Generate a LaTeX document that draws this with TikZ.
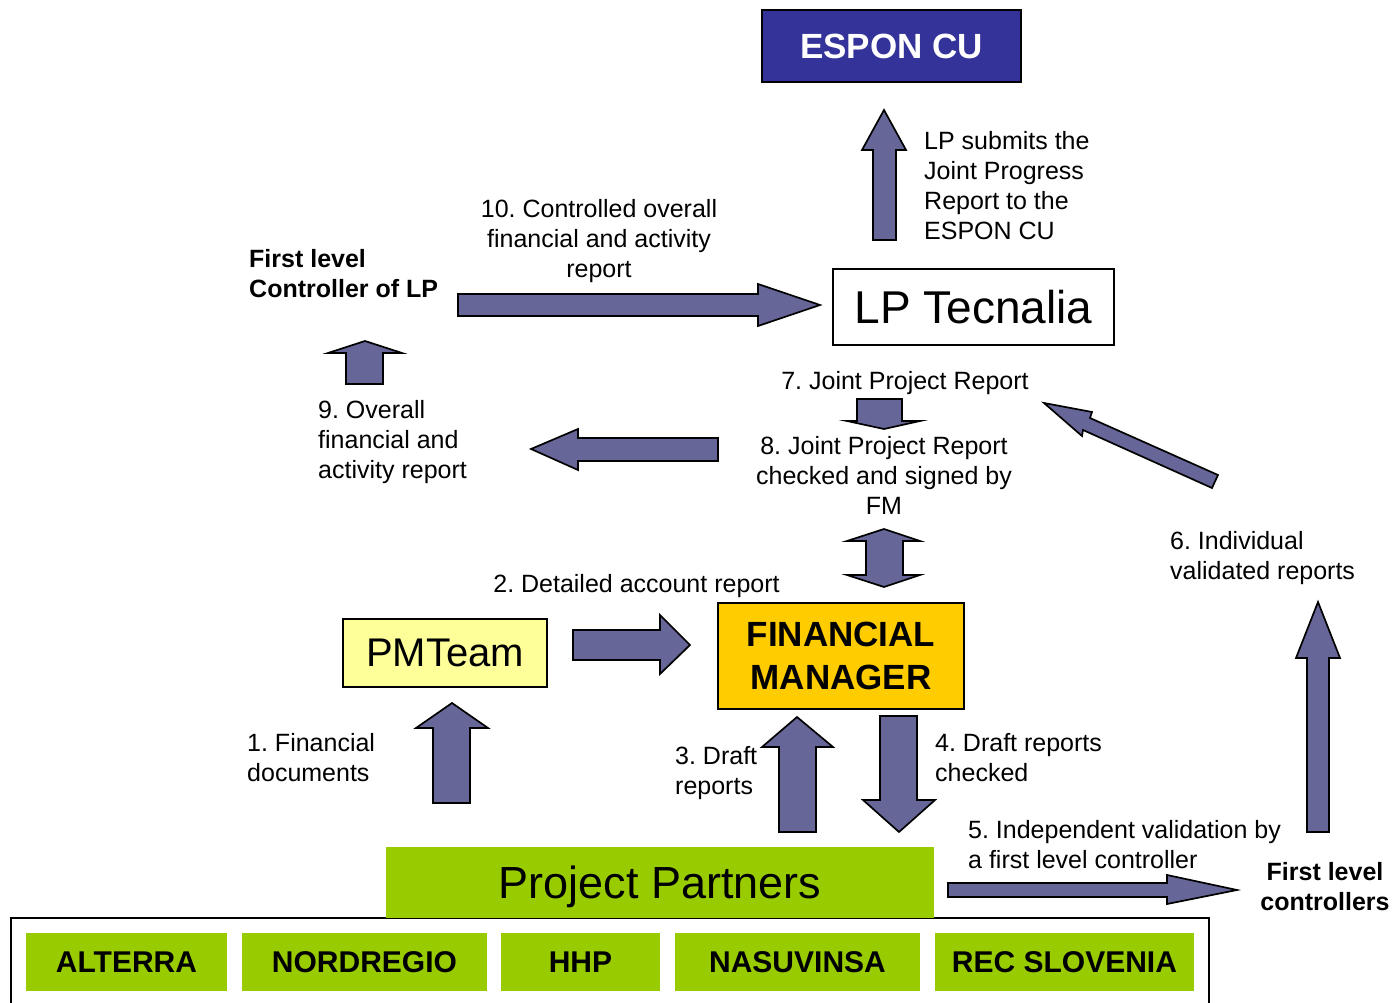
\documentclass[tikz,border=0pt]{standalone}
\usepackage{fontspec}
\setmainfont{Liberation Sans}
\frenchspacing
\definecolor{esponblue}{HTML}{333399}
\definecolor{arrowfill}{HTML}{666699}
\definecolor{ppgreen}{HTML}{99CC00}
\definecolor{fmyellow}{HTML}{FFCC00}
\definecolor{pmyellow}{HTML}{FFFF99}
\newcommand\myfs[2]{\fontsize{#1}{#2}\selectfont}
\tikzset{
  blockarrow/.style={draw=black, fill=arrowfill, line width=1.7pt, line join=miter},
  lbl/.style={inner sep=0pt, font=\myfs{25}{30}\frenchspacing},
  lblb/.style={inner sep=0pt, font=\myfs{25}{30}\bfseries},
  partner/.style={fill=ppgreen, inner sep=0pt, minimum height=58, font=\myfs{30}{36}\bfseries},
}
\begin{document}
\begin{tikzpicture}[x=1pt,y=-1pt]
\useasboundingbox (0,0) rectangle (1395,1003);
% outer partners frame
\draw[line width=2pt] (11,1006) -- (11,918) -- (1209,918) -- (1209,1006);
% boxes
\node[draw=black, line width=2pt, fill=esponblue, text=white, minimum width=259, minimum height=72, inner sep=0pt, font=\myfs{35}{40}\bfseries] (espon) at (891.5,46) {ESPON CU};
\node[draw=black, line width=1.5pt, fill=white, minimum width=281, minimum height=76, inner sep=0pt, font=\myfs{46}{52}] (lp) at (973.5,307) {LP Tecnalia};
\node[draw=black, line width=1.5pt, fill=pmyellow, minimum width=204, minimum height=68, inner sep=0pt, font=\myfs{40}{46}] (pm) at (445,653) {PMTeam};
\node[draw=black, line width=1.5pt, fill=fmyellow, minimum width=246, minimum height=106, inner sep=0pt, align=center, font=\myfs{35}{43}\bfseries] (fm) at (841,656) {FINANCIAL\\MANAGER};
\node[fill=ppgreen, minimum width=548, minimum height=71, inner sep=0pt, text depth=0pt, font=\myfs{45}{52}] (pp) at (660,882.5) {Project Partners};
\node[partner, minimum width=201] (alterra) at (126.5,962) {ALTERRA};
\node[partner, minimum width=245] (nordregio) at (364.5,962) {NORDREGIO};
\node[partner, minimum width=159] (hhp) at (580.5,962) {HHP};
\node[partner, minimum width=245] (nasuvinsa) at (797.5,962) {NASUVINSA};
\node[partner, minimum width=259] (rec) at (1064.5,962) {REC SLOVENIA};
% block arrows
\draw[blockarrow] (873,240) -- (873,150) -- (862,150) -- (884,110) -- (906,150) -- (896,150) -- (896,240) -- cycle;
\draw[blockarrow] (458,294) -- (758,294) -- (758,284) -- (820,305) -- (758,326) -- (758,316) -- (458,316) -- cycle;
\draw[blockarrow] (346,384) -- (346,353) -- (328,353) -- (365,341) -- (402,353) -- (383,353) -- (383,384) -- cycle;
\draw[blockarrow] (718,438) -- (578,438) -- (578,429) -- (531,449) -- (578,470) -- (578,461) -- (718,461) -- cycle;
\draw[blockarrow] (857,399) -- (902,399) -- (902,421) -- (920,421) -- (884,429) -- (847,421) -- (857,421) -- cycle;
\draw[blockarrow] (884,529) -- (920,541) -- (903,541) -- (903,575) -- (920,575) -- (884,587) -- (847,575) -- (866,575) -- (866,541) -- (847,541) -- cycle;
\draw[blockarrow] (1044,403) -- (1092,412) -- (1090,418) -- (1218,475) -- (1212,488) -- (1083,430) -- (1082,436) -- cycle;
\draw[blockarrow] (1307,832) -- (1307,658) -- (1296,658) -- (1318,602) -- (1340,658) -- (1329,658) -- (1329,832) -- cycle;
\draw[blockarrow] (573,630) -- (660,630) -- (660,615) -- (690,645) -- (660,674) -- (660,660) -- (573,660) -- cycle;
\draw[blockarrow] (433,803) -- (433,728) -- (416,728) -- (452,703) -- (488,728) -- (470,728) -- (470,803) -- cycle;
\draw[blockarrow] (779,832) -- (779,747) -- (762,747) -- (797,717) -- (833,747) -- (816,747) -- (816,832) -- cycle;
\draw[blockarrow] (880,716) -- (917,716) -- (917,800) -- (935,800) -- (899,832) -- (863,800) -- (880,800) -- cycle;
\draw[blockarrow] (948,883) -- (1167,883) -- (1167,875) -- (1237,890) -- (1167,904) -- (1167,897) -- (948,897) -- cycle;
% labels
\node[lbl, anchor=west, align=left] (lpsub) at (924,186) {LP submits the\\Joint Progress\\Report to the\\ESPON CU};
\node[lbl, align=center] (l10) at (599,241) {10. Controlled overall\\financial and activity\\report};
\node[lblb, anchor=west, align=left] (flc) at (249,274) {First level\\Controller of LP};
\node[lbl, anchor=west, align=left] (l9) at (318,442) {9. Overall\\financial and\\activity report};
\node[lbl] (l7) at (905,383) {7. Joint Project Report};
\node[lbl, align=center] (l8) at (884,475) {8. Joint Project Report\\checked and signed by\\FM};
\node[lbl, anchor=west, align=left] (l6) at (1170,558) {6. Individual\\validated reports};
\node[lbl] (l2) at (636.5,586) {2. Detailed account report};
\node[lbl, anchor=west, align=left] (l1) at (247,758) {1. Financial\\documents};
\node[lbl, anchor=west, align=left] (l3) at (675,773) {3. Draft\\reports};
\node[lbl, anchor=west, align=left] (l4) at (935,758) {4. Draft reports\\checked};
\node[lbl, anchor=west, align=left] (l5) at (968,845) {5. Independent validation by\\a first level controller};
\node[lblb, align=center] (flcs) at (1325,887) {First level\\controllers};
\end{tikzpicture}
\end{document}
